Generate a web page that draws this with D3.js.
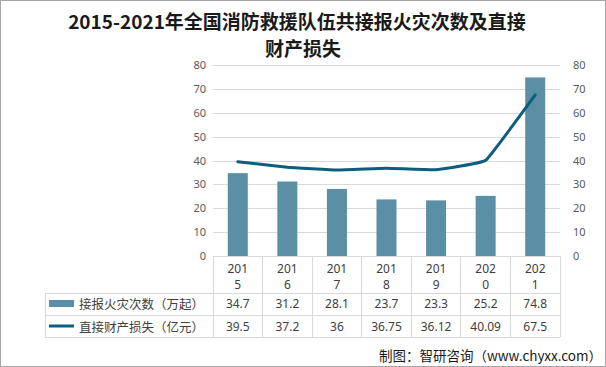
<!DOCTYPE html>
<html><head><meta charset="utf-8">
<script src="https://cdn.jsdelivr.net/npm/d3@7"></script>
<style>
html,body{margin:0;padding:0;background:#fff;}
svg{display:block;font-family:"Noto Sans CJK SC","Noto Sans",sans-serif;}
</style></head>
<body>
<script>
const years = ["2015","2016","2017","2018","2019","2020","2021"];
const fires = [34.7,31.2,28.1,23.7,23.3,25.2,74.8];
const losses = [39.5,37.2,36,36.75,36.12,40.09,67.5];
const lossLabels = ["39.5","37.2","36","36.75","36.12","40.09","67.5"];
const yTicks = [0,10,20,30,40,50,60,70,80];
const seriesNames = ["接报火灾次数（万起）","直接财产损失（亿元）"];
const titleLines = ["2015-2021年全国消防救援队伍共接报火灾次数及直接","财产损失"];
const footer = "制图：智研咨询（www.chyxx.com）";

const W=606,H=367;
const svg=d3.select("body").append("svg").attr("width",W).attr("height",H);
svg.append("rect").attr("x",0.5).attr("y",0.5).attr("width",W-1).attr("height",H-1)
  .attr("fill","#fff").attr("stroke","#a6a6a6");

const barColor="#5b8fa5", lineColor="#0d5e7d", grid="#d9d9d9";
const x=d3.scaleBand().domain(years).range([213,560]);
const y=d3.scaleLinear().domain([0,80]).range([256,65]);

// title
svg.append("g").selectAll("text").data(titleLines).join("text")
  .attr("x",(d,i)=>i===0?297:303).attr("y",(d,i)=>29+i*27)
  .attr("text-anchor","middle").attr("font-size",19).attr("font-weight","bold")
  .attr("fill","#1a1a1a").text(d=>d);

// gridlines
svg.append("g").selectAll("line").data(yTicks).join("line")
  .attr("x1",213).attr("x2",560).attr("y1",d=>Math.round(y(d))+0.5).attr("y2",d=>Math.round(y(d))+0.5)
  .attr("stroke",grid).attr("stroke-width",1);

// axes
const left=svg.append("g").attr("transform","translate(206,0)")
  .call(d3.axisLeft(y).tickValues(yTicks).tickSize(0).tickPadding(0));
const right=svg.append("g").attr("transform","translate(569,0)")
  .call(d3.axisRight(y).tickValues(yTicks).tickSize(0).tickPadding(4));
[left,right].forEach(g=>{
  g.select(".domain").remove();
  g.selectAll("text").attr("font-size",11).attr("fill","#595959")
   .attr("font-family","'Noto Sans','DejaVu Sans',sans-serif");
});

// bars
const bw=20;
svg.append("g").selectAll("rect").data(fires).join("rect")
  .attr("x",(d,i)=>x(years[i])+x.bandwidth()/2-bw/2).attr("width",bw)
  .attr("y",d=>y(d)).attr("height",d=>y(0)-y(d)).attr("fill",barColor);

// line
const line=d3.line().x((d,i)=>x(years[i])+x.bandwidth()/2).y(d=>y(d)).curve(d3.curveCardinal.tension(0.75));
svg.append("path").datum(losses).attr("d",line).attr("fill","none")
  .attr("stroke",lineColor).attr("stroke-width",3).attr("stroke-linecap","round").attr("stroke-linejoin","round");

// table
const tg=svg.append("g").attr("stroke",grid).attr("stroke-width",1).attr("shape-rendering","crispEdges");
tg.append("line").attr("x1",45).attr("x2",560).attr("y1",293).attr("y2",293);
tg.append("line").attr("x1",45).attr("x2",560).attr("y1",315).attr("y2",315);
tg.append("line").attr("x1",45).attr("x2",560).attr("y1",337).attr("y2",337);
tg.append("line").attr("x1",45).attr("x2",45).attr("y1",293).attr("y2",337);
const colEdges=years.map(d=>x(d)).concat([560]);
tg.selectAll(".v").data(colEdges).join("line")
  .attr("x1",d=>d).attr("x2",d=>d).attr("y1",256).attr("y2",337);

// header labels
const hg=svg.append("g").attr("font-size",12).attr("fill","#404040")
  .attr("font-family","'Noto Sans','DejaVu Sans',sans-serif").attr("text-anchor","middle");
years.forEach(yr=>{
  const cx=x(yr)+x.bandwidth()/2;
  hg.append("text").attr("x",cx).attr("y",273).text(yr.slice(0,3));
  hg.append("text").attr("x",cx).attr("y",289).text(yr.slice(3));
});
// values
const vg=svg.append("g").attr("font-size",12).attr("fill","#404040")
  .attr("font-family","'Noto Sans','DejaVu Sans',sans-serif").attr("text-anchor","middle");
fires.forEach((v,i)=>vg.append("text").attr("x",x(years[i])+x.bandwidth()/2).attr("y",308).text(v));
lossLabels.forEach((v,i)=>vg.append("text").attr("x",x(years[i])+x.bandwidth()/2).attr("y",331).text(v));

// legend
svg.append("rect").attr("x",49).attr("y",300).attr("width",25).attr("height",7).attr("fill",barColor);
svg.append("line").attr("x1",49).attr("x2",74).attr("y1",326).attr("y2",326).attr("stroke",lineColor).attr("stroke-width",3);
svg.append("g").selectAll("text").data(seriesNames).join("text")
  .attr("x",79).attr("y",(d,i)=>308.5+i*23).attr("font-size",12.5).attr("fill","#404040").text(d=>d);

// footer
svg.append("text").attr("x",602).attr("y",361).attr("text-anchor","end")
  .attr("font-size",13.5).attr("fill","#1a1a1a").text(footer);
</script>
</body></html>
